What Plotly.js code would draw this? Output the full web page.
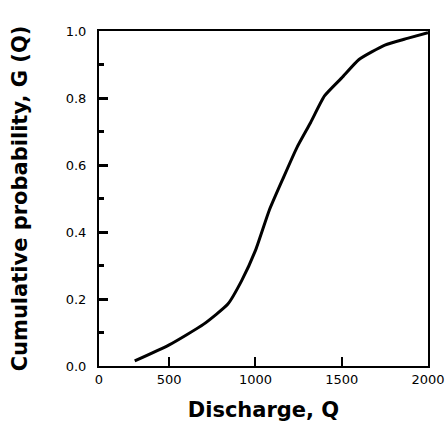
<!DOCTYPE html>
<html>
<head>
<meta charset="utf-8">
<script src="https://cdn.plot.ly/plotly-3.0.1.min.js"></script>
<style>html,body{margin:0;padding:0;background:#fff;}#chart{width:447px;height:439px;}</style>
</head>
<body>
<div id="chart"></div>
<script>
// Discharge values (Q) and cumulative probability G(Q)
const discharge = [300, 500, 700, 840, 920, 1000, 1080, 1160, 1240, 1320, 1400, 1500, 1600, 1750, 1880, 2000];
const cumProb   = [0.015, 0.063, 0.125, 0.185, 0.255, 0.345, 0.465, 0.56, 0.652, 0.727, 0.806, 0.86, 0.915, 0.958, 0.978, 0.995];

const xTickVals = [93, 500, 1000, 1500, 2000];
const xTickText = ['0', '500', '1000', '1500', '2000'];
const yTickVals = [0, 0.2, 0.4, 0.6, 0.8, 1.0];
const yTickText = ['0.0', '0.2', '0.4', '0.6', '0.8', '1.0'];

const tickFont = 'DejaVu Sans, sans-serif';
const titleFont = 'DejaVu Sans, sans-serif';

Plotly.newPlot('chart', [{
  x: discharge,
  y: cumProb,
  type: 'scatter',
  mode: 'lines',
  line: {color: '#000', width: 3, shape: 'spline', smoothing: 0.5},
  hoverinfo: 'skip'
}], {
  width: 447, height: 439,
  margin: {l: 99, r: 19, t: 31, b: 73},
  paper_bgcolor: '#fff', plot_bgcolor: '#fff',
  showlegend: false,
  xaxis: {
    range: [93, 2000],
    tickvals: xTickVals, ticktext: xTickText,
    ticks: 'inside', ticklen: 9, tickwidth: 2, tickcolor: '#000',
    showline: true, linecolor: '#000', linewidth: 2, mirror: true,
    showgrid: false, zeroline: false,
    tickfont: {family: tickFont, size: 13, color: '#000'},
    title: {text: '<b>Discharge, Q</b>', font: {family: titleFont, size: 21, color: '#000'}, standoff: 17}
  },
  yaxis: {
    range: [0, 1.0],
    tickvals: yTickVals, ticktext: yTickText,
    ticks: 'inside', ticklen: 9, tickwidth: 3, tickcolor: '#000',
    minor: {tickvals: [0.1, 0.3, 0.5, 0.7, 0.9], ticks: 'inside', ticklen: 5, tickwidth: 3, tickcolor: '#000', showgrid: false},
    showline: true, linecolor: '#000', linewidth: 2, mirror: true,
    showgrid: false, zeroline: false,
    ticklabelstandoff: 8,
    tickfont: {family: tickFont, size: 13, color: '#000'},
    title: {text: '<b>Cumulative probability, G (Q)</b>', font: {family: titleFont, size: 21, color: '#000'}, standoff: 32}
  }
}, {displayModeBar: false, staticPlot: true});
</script>
</body>
</html>
